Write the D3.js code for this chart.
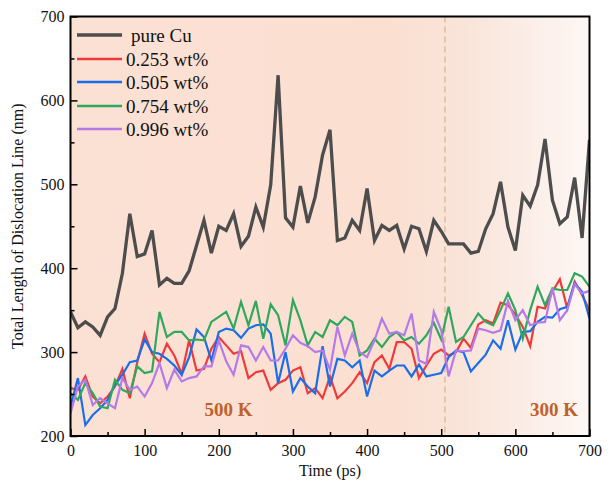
<!DOCTYPE html>
<html><head><meta charset="utf-8">
<script src="https://cdn.jsdelivr.net/npm/d3@7"></script>
<style>body{margin:0;background:#fff}svg{display:block}text{font-family:"Liberation Serif","Times New Roman",serif}</style>
</head><body><svg id="c" width="614" height="486"></svg>
<script>
const times = d3.range(0, 701, 10);
const pureCu = [348,329,336,330,320,342,352,394,465,414,417,445,380,388,382,382,397,427,457,418,450,445,465,426,438,473,449,499,630,460,449,498,454,485,535,565,433,436,457,445,495,433,451,445,451,423,450,447,420,457,444,429,429,429,418,420,447,465,503,449,421,487,474,499,554,481,453,461,508,436,553];
const wt253 = [257,255,271,247,239,247,259,280,245,288,322,298,288,310,296,274,314,278,280,304,318,308,298,301,269,276,278,255,263,267,278,282,251,257,245,271,245,253,263,276,263,288,296,280,312,312,304,269,284,298,303,296,300,316,305,333,338,334,359,356,345,330,307,354,352,372,387,352,384,368,350];
const wt505 = [235,269,213,225,233,243,261,273,288,290,315,300,298,292,284,273,294,327,318,290,324,328,326,317,328,332,333,322,263,300,253,269,259,251,307,259,292,290,282,290,247,278,271,278,284,284,271,285,271,273,275,294,302,300,277,287,297,314,304,338,303,324,325,336,342,341,351,354,382,372,340];
const wt754 = [251,243,263,251,235,233,267,255,251,283,275,277,348,318,324,324,314,315,314,336,342,348,328,360,332,361,316,357,344,308,362,338,308,324,318,338,332,342,336,296,302,316,306,318,324,314,318,310,320,335,315,354,312,318,332,346,336,332,350,370,350,316,350,378,356,376,374,374,394,390,378];
const wt996 = [227,259,267,237,245,239,233,269,255,259,247,263,287,257,279,265,269,271,283,283,314,289,273,308,306,290,306,290,290,304,320,311,307,300,302,279,330,296,322,300,294,314,340,322,324,320,346,290,286,348,326,271,302,301,302,328,326,323,326,361,338,350,332,335,336,376,338,350,381,370,373];
const seriesNames = ["pure Cu","0.253 wt%","0.505 wt%","0.754 wt%","0.996 wt%"];
const seriesColors = ["#4d4d4d","#f03a3a","#1a6ee8","#2fa85e","#b57ae8"];
const xTicks = [0,100,200,300,400,500,600,700];
const yTicks = [200,300,400,500,600,700];
const tempLabels = ["500 K","300 K"];
const switchTime = 505;

const svg = d3.select("#c");
const L=70.5, R=589.5, T=16.5, B=436;
const x = d3.scaleLinear().domain([0,700]).range([L,R]);
const y = d3.scaleLinear().domain([200,700]).range([B,T]);

const defs = svg.append("defs");
const g = defs.append("linearGradient").attr("id","bg").attr("x1","0").attr("x2","1").attr("y1","0").attr("y2","0");
g.append("stop").attr("offset","0").attr("stop-color","#fbe1d4");
g.append("stop").attr("offset","0.62").attr("stop-color","#fbe0d2");
g.append("stop").attr("offset","0.76").attr("stop-color","#f9e4d9");
g.append("stop").attr("offset","1").attr("stop-color","#fdf7f4");
defs.append("clipPath").attr("id","clip").append("rect").attr("x",L).attr("y",T).attr("width",R-L).attr("height",B-T);

svg.append("rect").attr("x",L).attr("y",T).attr("width",R-L).attr("height",B-T).attr("fill","url(#bg)");

svg.append("line").attr("x1",x(switchTime)).attr("x2",x(switchTime)).attr("y1",T).attr("y2",B)
  .attr("stroke","#dfbb9f").attr("stroke-width",1.5).attr("stroke-dasharray","6,4");

const line = d3.line().x((d,i)=>x(times[i])).y(d=>y(d));
const data = [pureCu, wt253, wt505, wt754, wt996];
const order = [1,2,3,4,0];
const lg = svg.append("g").attr("clip-path","url(#clip)");
order.forEach(k=>{
  lg.append("path").datum(data[k]).attr("d",line).attr("fill","none")
    .attr("stroke",seriesColors[k]).attr("stroke-width",k===0?3.3:2.2).attr("stroke-linejoin","miter");
});

svg.append("text").attr("x",x(213)).attr("y",y(224)).attr("text-anchor","middle").attr("font-weight","bold")
  .attr("font-size",19).attr("fill","#c0612b").text(tempLabels[0]);
svg.append("text").attr("x",x(652)).attr("y",y(224)).attr("text-anchor","middle").attr("font-weight","bold")
  .attr("font-size",19).attr("fill","#c0612b").text(tempLabels[1]);

const xAxis = d3.axisBottom(x).tickValues(d3.range(0,701,50)).tickSize(-7).tickSizeOuter(0)
  .tickFormat(d=>xTicks.includes(d)?d:"");
const gx = svg.append("g").attr("transform",`translate(0,${B})`).call(xAxis);
gx.selectAll(".tick line").attr("stroke","#000").attr("stroke-width",1.5)
  .attr("y2",(d)=>xTicks.includes(d)?-7:-4);
gx.selectAll(".tick text").attr("font-size",16).attr("fill","#111").attr("dy","1.05em").attr("y",3);
gx.select(".domain").remove();

const yAxis = d3.axisLeft(y).tickValues(d3.range(200,701,50)).tickSize(-7).tickSizeOuter(0)
  .tickFormat(d=>yTicks.includes(d)?d:"");
const gy = svg.append("g").attr("transform",`translate(${L},0)`).call(yAxis);
gy.selectAll(".tick line").attr("stroke","#000").attr("stroke-width",1.5)
  .attr("x2",(d)=>yTicks.includes(d)?7:4);
gy.selectAll(".tick text").attr("font-size",16).attr("fill","#111").attr("x",-6);
gy.select(".domain").remove();

svg.append("rect").attr("x",L).attr("y",T).attr("width",R-L).attr("height",B-T)
  .attr("fill","none").attr("stroke","#000").attr("stroke-width",2);

svg.append("text").attr("x",(L+R)/2).attr("y",476).attr("text-anchor","middle").attr("font-size",16).attr("fill","#111").text("Time (ps)");
svg.append("text").attr("transform",`translate(23,${(T+B)/2}) rotate(-90)`).attr("text-anchor","middle")
  .attr("font-size",16).attr("fill","#111").text("Total Length of Dislocation Line (nm)");

const legY = [35,59,82,106,129];
seriesNames.forEach((n,i)=>{
  svg.append("line").attr("x1",77).attr("x2",122).attr("y1",legY[i]).attr("y2",legY[i])
    .attr("stroke",seriesColors[i]).attr("stroke-width",i===0?3.5:2.4);
  svg.append("text").attr("x",i===0?131:126).attr("y",legY[i]).attr("dy","0.35em").attr("font-size",19)
    .attr("fill","#111").text(n);
});
</script></body></html>
